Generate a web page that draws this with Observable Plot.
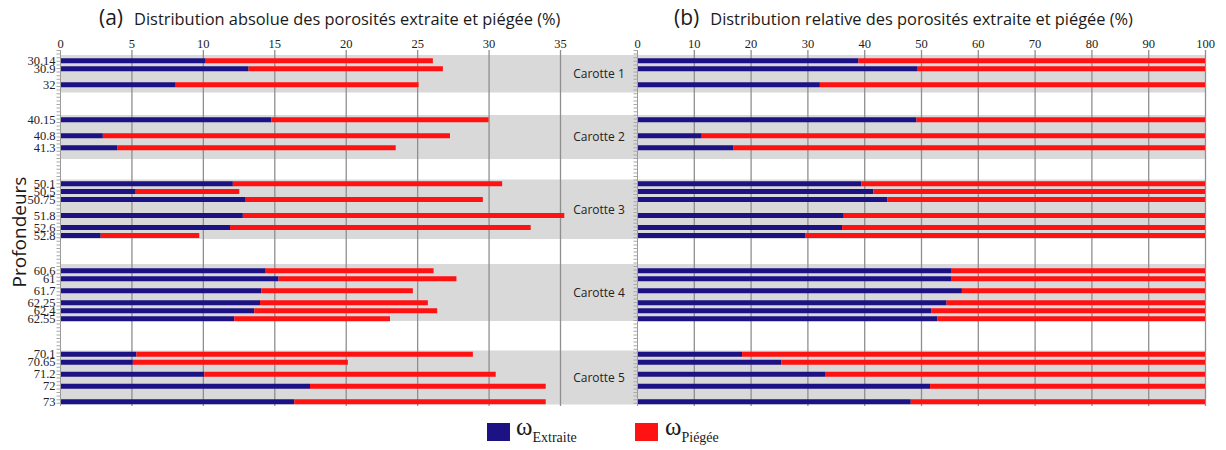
<!DOCTYPE html>
<html><head><meta charset="utf-8">
<script src="https://cdn.jsdelivr.net/npm/d3@7"></script>
<script src="https://cdn.jsdelivr.net/npm/@observablehq/plot@0.6"></script>
<style>
body{margin:0;background:#fff;}
#root{position:relative;width:1226px;height:450px;overflow:hidden;font-family:"Open Sans",sans-serif;color:#1a1a1a;}
.abs{position:absolute;white-space:nowrap;}
.ttl{font-size:16.4px;}
.tag{font-size:21px;margin-right:11px;}
.sq{position:absolute;width:23px;height:18px;}
.om{font-family:"Liberation Serif",serif;font-size:25px;}
.sub{font-family:"Liberation Serif",serif;font-size:14px;position:relative;top:7px;}
</style></head><body><div id="root"></div>
<script>
// ---- data ----
const depths = [30.14,30.9,32,40.15,40.8,41.3,50.1,50.5,50.75,51.8,52.6,52.8,60.6,61,61.7,62.25,62.4,62.55,70.1,70.65,71.2,72,73];
const depthLabels = ["30.14","30.9","32","40.15","40.8","41.3","50.1","50.5","50.75","51.8","52.6","52.8","60.6","61","61.7","62.25","62.4","62.55","70.1","70.65","71.2","72","73"];
const absExtraite = [10.2,13.2,8.1,14.8,3.0,4.0,12.1,5.3,13.0,12.8,11.9,2.85,14.4,15.3,14.1,14.0,13.6,12.2,5.35,5.1,10.1,17.5,16.4];
const absPiegee   = [15.9,13.6,17.0,15.2,24.3,19.5,18.85,7.25,16.6,22.5,21.05,6.9,11.75,12.45,10.6,11.75,12.8,10.9,23.55,15.05,20.4,16.5,17.6];
const relExtraite = [39.0,49.3,32.2,49.2,11.4,17.0,39.5,41.6,44.1,36.4,36.1,29.6,55.4,55.4,57.2,54.5,51.8,52.9,18.5,25.4,33.1,51.6,48.2];
const relPiegee   = [61.0,50.7,67.8,50.8,88.6,83.0,60.5,58.4,55.9,63.6,63.9,70.4,44.6,44.6,42.8,45.5,48.2,47.1,81.5,74.6,66.9,48.4,51.8];
const coreNames = ["Carotte 1","Carotte 2","Carotte 3","Carotte 4","Carotte 5"];
const coreTop    = [29.85,39.9,49.9,60.3,69.9];
const coreBottom = [32.5,41.8,53.0,62.7,73.3];
const ticksAbs = [0,5,10,15,20,25,30,35];
const ticksRel = [0,10,20,30,40,50,60,70,80,90,100];

// ---- layout of the (schematic, non-linear) depth axis ----
const yKnots  = [29.5,29.85,30.14,30.9,32,32.5,39.9,40.15,40.8,41.3,41.8,49.9,50.1,50.5,50.75,51.8,52.6,52.8,53.0,60.3,60.6,61,61.7,62.25,62.4,62.55,62.7,69.9,70.1,70.65,71.2,72,73,73.3,73.5];
const yPixels = [50,55,60.3,68.3,84.3,92.5,115,119.3,135.3,147.3,159,179.5,183.3,191,199,215,227,235,239,264,270.3,278.3,290.3,302.3,310.3,318.3,321,350.5,353.7,361.7,373.7,385.7,401.3,404.5,406];
const yPix = d3.scaleLinear(yKnots, yPixels);

const BLUE = "#1d1283", RED = "#ff1212", GREY = "#d9d9d9", GRID = "#8f8f8f";
const labelOf = new Map(depths.map((d,i)=>[d, depthLabels[i]]));
const absRows = depths.map((d,i)=>({depth:d, ext:absExtraite[i], pie:absPiegee[i]}));
const relRows = depths.map((d,i)=>({depth:d, ext:relExtraite[i], pie:relPiegee[i]}));
const cores = coreNames.map((n,i)=>({name:n, top:coreTop[i], bottom:coreBottom[i]}));
const coreMid = c => yPix.invert((yPix(c.top)+yPix(c.bottom))/2);

const serif = "Liberation Serif";
function ruler(){
  return [
    Plot.ruleX([0], {stroke:"#9a9a9a", strokeWidth:1}),
    Plot.ruleX([0], {stroke:"#a8a8a8", strokeWidth:4, strokeDasharray:"1 2.6", dx:-2})
  ];
}
function bars(rows){
  return [
    Plot.ruleY(rows, {y:"depth", x1:0, x2:"ext", stroke:BLUE, strokeWidth:5}),
    Plot.ruleY(rows, {y:"depth", x1:"ext", x2:d=>d.ext+d.pie, stroke:RED, strokeWidth:5})
  ];
}

const xMaxA = 40.39;
const left = Plot.plot({
  width:637, height:412, marginLeft:60, marginRight:0, marginTop:50, marginBottom:6,
  style:{background:"transparent"},
  x:{domain:[0,xMaxA], axis:null},
  y:{type:"linear", domain:yKnots, range:yPixels, axis:null},
  marks:[
    Plot.rect(cores, {x1:0, x2:xMaxA, y1:"top", y2:"bottom", fill:GREY}),
    Plot.gridX({ticks:ticksAbs.slice(1), stroke:GRID, strokeOpacity:1, strokeWidth:1.3}),
    ...bars(absRows),
    ...ruler(),
    Plot.axisX({anchor:"top", ticks:ticksAbs, tickSize:0, tickPadding:3, fontFamily:serif, fontSize:12.5, fill:"#222", label:null}),
    Plot.axisY({anchor:"left", ticks:depths, tickFormat:d=>labelOf.get(d), tickSize:0, tickPadding:5, fontFamily:serif, fontSize:12.5, fill:"#222", label:null}),
    Plot.text(cores, {x:(ticksAbs[ticksAbs.length-1]+xMaxA)/2, y:coreMid, text:"name", fontFamily:"Open Sans", fontSize:12, fill:"#222"})
  ]
});

const right = Plot.plot({
  width:606, height:412, marginLeft:17, marginRight:21, marginTop:50, marginBottom:6,
  style:{background:"transparent"},
  x:{domain:[0,100], axis:null},
  y:{type:"linear", domain:yKnots, range:yPixels, axis:null},
  marks:[
    Plot.rect(cores, {x1:0, x2:100, y1:"top", y2:"bottom", fill:GREY}),
    Plot.gridX({ticks:ticksRel.slice(1), stroke:GRID, strokeOpacity:1, strokeWidth:1.3}),
    ...bars(relRows),
    ...ruler(),
    Plot.axisX({anchor:"top", ticks:ticksRel, tickSize:0, tickPadding:3, fontFamily:serif, fontSize:12.5, fill:"#222", label:null})
  ]
});

const root = document.getElementById("root");
left.style.position = "absolute"; left.style.left = "0px"; left.style.top = "0px";
right.style.position = "absolute"; right.style.left = "620px"; right.style.top = "0px";
root.appendChild(left);
root.appendChild(right);

root.insertAdjacentHTML("beforeend", `
<div class="abs" style="left:99px;top:3px;"><span class="tag">(a)</span><span class="ttl">Distribution absolue des porosités extraite et piégée (%)</span></div>
<div class="abs" style="left:674px;top:3px;"><span class="tag">(b)</span><span class="ttl">Distribution relative des porosités extraite et piégée (%)</span></div>
<div class="abs" style="left:19px;top:232px;transform:translate(-50%,-50%) rotate(-90deg);font-size:19px;">Profondeurs</div>
<div class="sq" style="left:487px;top:423px;background:${BLUE};"></div>
<div class="abs" style="left:516px;top:413px;"><span class="om">ω</span><span class="sub">Extraite</span></div>
<div class="sq" style="left:635px;top:423px;background:${RED};"></div>
<div class="abs" style="left:665px;top:413px;"><span class="om">ω</span><span class="sub">Piégée</span></div>
`);
</script></body></html>
